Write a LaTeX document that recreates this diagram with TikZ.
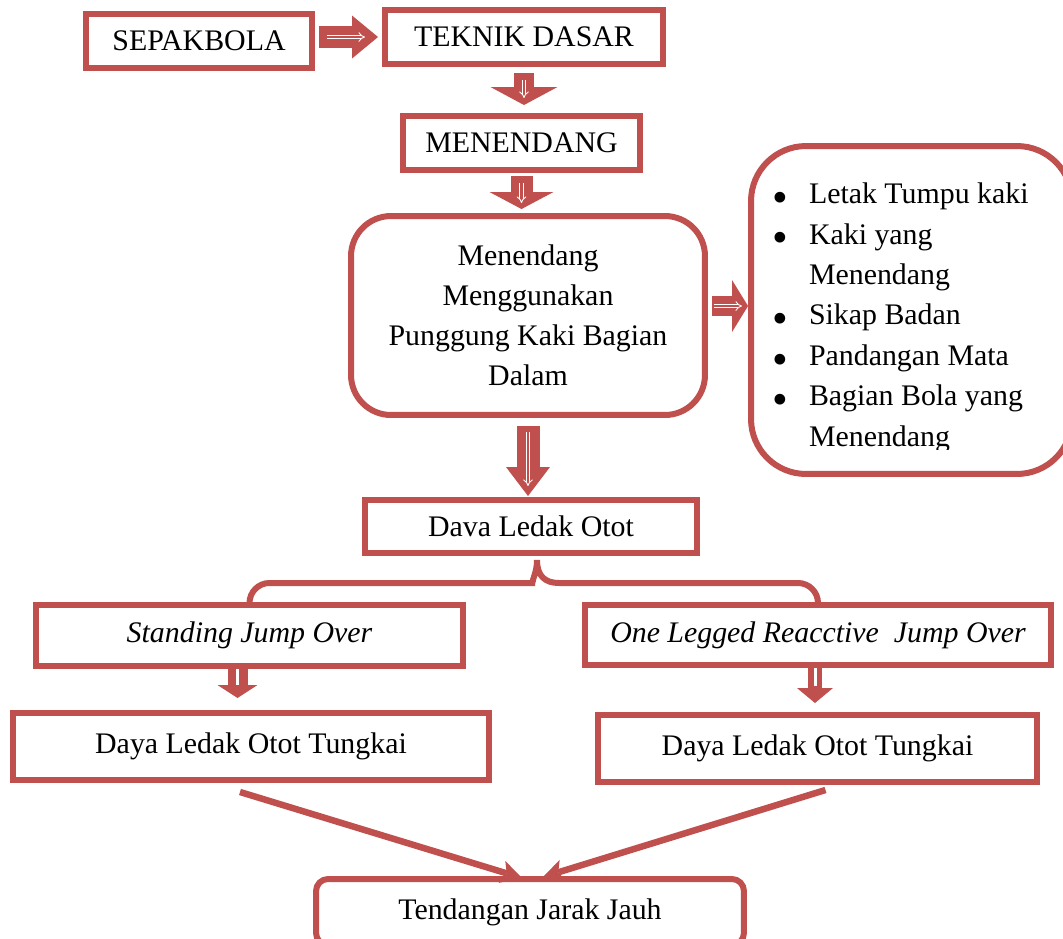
\documentclass[tikz,border=0pt]{standalone}
\usepackage{fontspec}
\setmainfont{Liberation Serif}
\usetikzlibrary{arrows.meta,calc}
\definecolor{accent}{HTML}{C0504D}
\newcommand{\ukuran}{\fontsize{17}{22.8}\selectfont}
\newcommand{\butir}{\raisebox{-0.65ex}{\scalebox{1.5}{\textbullet}}}
\tikzset{
    box/.style={draw=accent, line width=0.12cm, inner sep=0pt,
                align=center, font=\ukuran},
    soft/.style={box, rounded corners=0.8cm},
    jump/.style={box, font=\ukuran\itshape},
    fat/.style args={#1/#2/#3}{draw=accent, line width=#1,
                -{Triangle[width=#2, length=#3, line width=0pt]}},
    hollow/.style={draw=white, line width=0.5pt, double=accent,
                double distance=1.4pt, -{Implies}},
    glint/.style={draw=white, line width=0.06cm},
    brace/.style={draw=accent, line width=0.12cm},
    link/.style={draw=accent, line width=0.13cm,
                -{Stealth[length=0.42cm, width=0.46cm, inset=0.1cm, line width=0pt]}},
}

\begin{document}
\begin{tikzpicture}[x=0.02cm, y=-0.02cm]

    \useasboundingbox (0,0) rectangle (1063,938);
    \clip (0,0) rectangle (1063,938);

    \node[box, minimum width=4.52cm, minimum height=1.08cm] (sepakbola) at (199,41) {SEPAKBOLA};
    \node[box, minimum width=5.56cm, minimum height=1.08cm] (teknik) at (524,37) {TEKNIK DASAR};
    \node[box, minimum width=4.74cm, minimum height=1.08cm] (menendang) at (521.5,143) {MENENDANG};
    \node[soft, minimum width=7.08cm, minimum height=3.98cm] (punggung) at (528,315.5)
        {Menendang\\Menggunakan\\Punggung Kaki Bagian\\Dalam};
    \node[soft, rounded corners=1.1cm, minimum width=6.42cm, minimum height=6.56cm] (aspek) at (911.5,310) {};
    \begin{scope}
        \clip (760,150) rectangle (1063,449);
        \node[anchor=north west, inner sep=0pt, font=\fontsize{17}{23}\selectfont] (daftar) at (772,175)
            {\begin{tabular}{@{}l@{\hspace{0.42cm}}l@{}}
             \butir & Letak Tumpu kaki\\
             \butir & Kaki yang\\
                    & Menendang\\
             \butir & Sikap Badan\\
             \butir & Pandangan Mata\\
             \butir & Bagian Bola yang\\
                    & Menendang
             \end{tabular}};
    \end{scope}
    \node[box, minimum width=6.64cm, minimum height=1.06cm] (dava) at (531,526.5) {Dava Ledak Otot};
    \node[jump, minimum width=8.54cm, minimum height=1.22cm] (standing) at (249.5,635.5) {Standing Jump Over};
    \node[jump, minimum width=9.32cm, minimum height=1.2cm] (onelegged) at (818,635) {One Legged Reacctive\ \ Jump Over};
    \node[box, minimum width=9.52cm, minimum height=1.34cm] (dayakiri) at (251,746.5) {Daya Ledak Otot Tungkai};
    \node[box, minimum width=8.78cm, minimum height=1.34cm] (dayakanan) at (817.5,748.5) {Daya Ledak Otot Tungkai};
    \node[box, rounded corners=0.24cm, minimum width=8.56cm, minimum height=1.32cm] (tendangan) at (530,912) {Tendangan Jarak Jauh};

    \draw[fat=0.44cm/0.86cm/0.52cm, shorten <=0.08cm, shorten >=0.08cm] (sepakbola.east |- teknik) -- (teknik.west);
    \draw[hollow] ([xshift=0.24cm]sepakbola.east |- teknik) -- ++(38,0);
    \draw[fat=0.4cm/1.34cm/0.36cm, shorten <=0.12cm, shorten >=0.16cm] (teknik.south) -- (teknik.south |- menendang.north);
    \draw[hollow] ([yshift=-0.26cm]teknik.south) -- ++(0,18);
    \draw[fat=0.44cm/1.28cm/0.34cm, shorten <=0.06cm, shorten >=0.08cm] (menendang.south) -- (menendang.south |- punggung.north);
    \draw[hollow] ([yshift=-0.2cm]menendang.south) -- ++(0,20);
    \draw[fat=0.4cm/1.04cm/0.32cm, shorten <=0.08cm] ([yshift=0.19cm]punggung.east) -- ([yshift=0.19cm]punggung.east -| aspek.west);
    \draw[hollow] ([shift={(6,-9.5)}]punggung.east) -- ++(28,0);
    \draw[fat=0.46cm/0.88cm/0.58cm, shorten <=0.16cm, shorten >=0.02cm] (punggung.south) -- (punggung.south |- dava.north);
    \draw[hollow] ([yshift=-0.28cm]punggung.south) -- ++(0,54);

    \coordinate (puncak) at ([shift={(6,4)}]dava.south);
    \draw[brace] (standing.north) [rounded corners=0.4cm] |- ([shift={(-22,23)}]puncak) [sharp corners]
        .. controls ([shift={(-8,23)}]puncak) and ([shift={(0,16)}]puncak) .. (puncak)
        .. controls ([shift={(0,16)}]puncak) and ([shift={(8,23)}]puncak) .. ([shift={(22,23)}]puncak)
        [rounded corners=0.4cm] -| (onelegged.north);

    \draw[fat=0.4cm/0.8cm/0.26cm, shorten >=0.24cm] ([xshift=-0.24cm]standing.south) -- ([xshift=-0.24cm]standing.south |- dayakiri.north);
    \draw[glint] ([xshift=-0.24cm]standing.south) -- ++(0,16);
    \draw[fat=0.28cm/0.72cm/0.3cm, shorten >=0.18cm] ([xshift=-0.06cm]onelegged.south) -- ([xshift=-0.06cm]onelegged.south |- dayakanan.north);
    \draw[glint] ([xshift=-0.06cm]onelegged.south) -- ++(0,18);

    \draw[link] ([shift={(-11,9)}]dayakiri.south) -- ([shift={(-8,2)}]tendangan.north);
    \draw[link] ([shift={(8,5)}]dayakanan.south) -- ([shift={(13,1)}]tendangan.north);

\end{tikzpicture}
\end{document}
